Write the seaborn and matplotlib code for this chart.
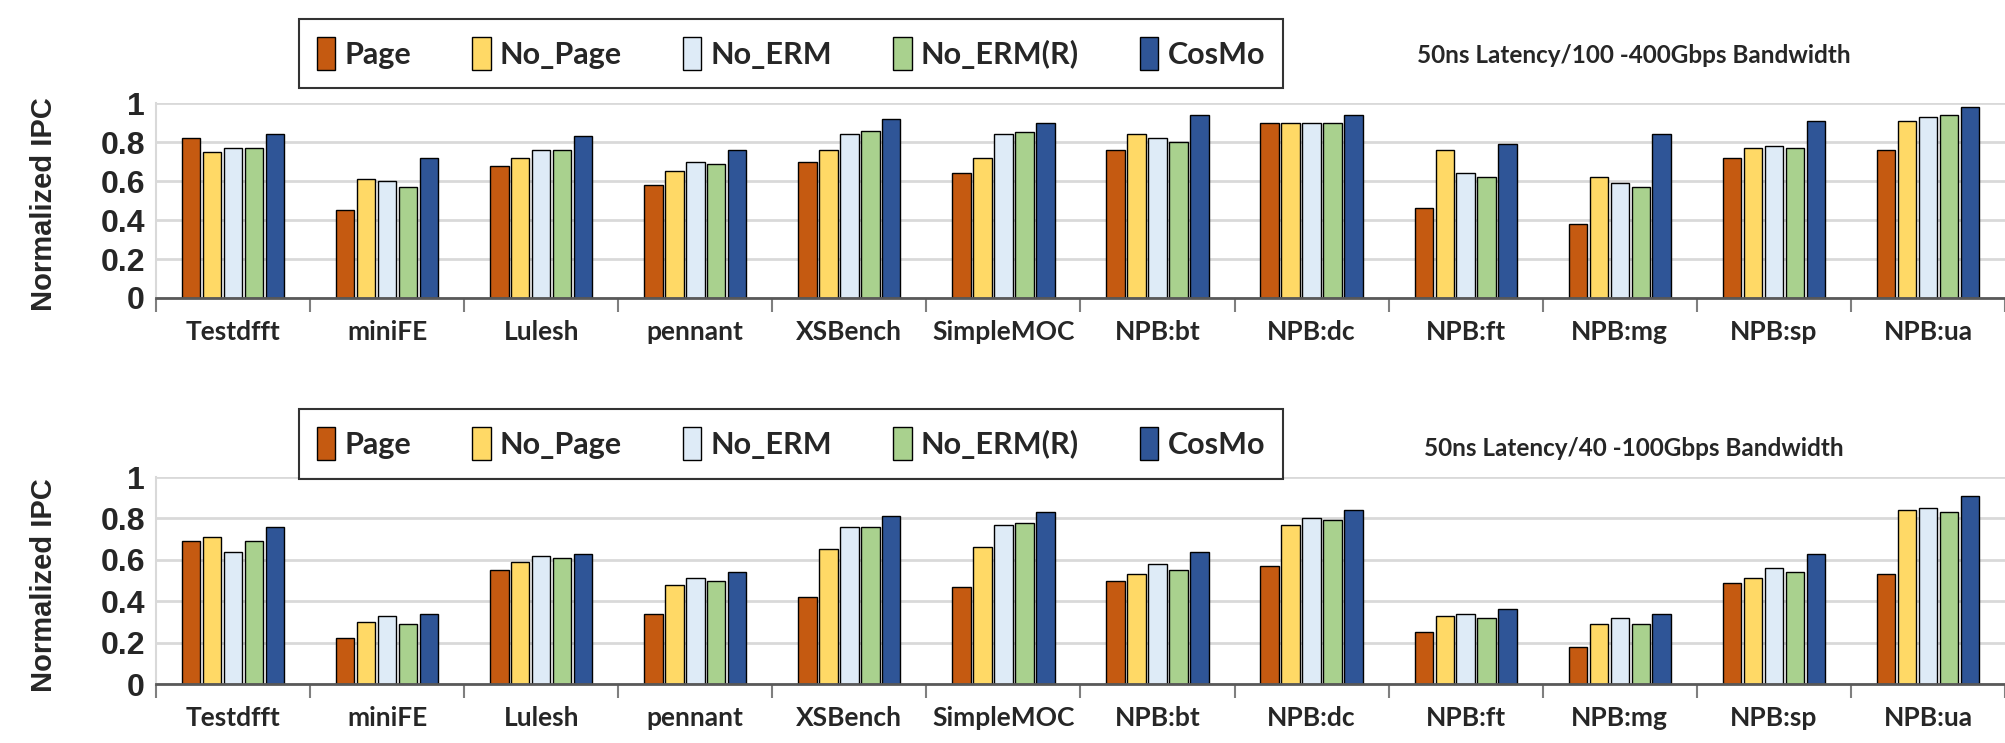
import numpy as np
import pandas as pd
import matplotlib
matplotlib.use('Agg')
import matplotlib.pyplot as plt
import seaborn as sns

# ---------------- data ----------------
benchmarks = ['Testdfft', 'miniFE', 'Lulesh', 'pennant', 'XSBench', 'SimpleMOC',
              'NPB:bt', 'NPB:dc', 'NPB:ft', 'NPB:mg', 'NPB:sp', 'NPB:ua']
configs = ['Page', 'No_Page', 'No_ERM', 'No_ERM(R)', 'CosMo']
colors = ['#C55A11', '#FFD966', '#DEEBF7', '#A9D18E', '#2F5597']

# 50ns latency / 100-400Gbps
page_hi = [0.82, 0.45, 0.68, 0.58, 0.70, 0.64, 0.76, 0.90, 0.46, 0.38, 0.72, 0.76]
nopage_hi = [0.75, 0.61, 0.72, 0.65, 0.76, 0.72, 0.84, 0.90, 0.76, 0.62, 0.77, 0.91]
noerm_hi = [0.77, 0.60, 0.76, 0.70, 0.84, 0.84, 0.82, 0.90, 0.64, 0.59, 0.78, 0.93]
noermr_hi = [0.77, 0.57, 0.76, 0.69, 0.86, 0.85, 0.80, 0.90, 0.62, 0.57, 0.77, 0.94]
cosmo_hi = [0.84, 0.72, 0.83, 0.76, 0.92, 0.90, 0.94, 0.94, 0.79, 0.84, 0.91, 0.98]

# 50ns latency / 40-100Gbps
page_lo = [0.69, 0.22, 0.55, 0.34, 0.42, 0.47, 0.50, 0.57, 0.25, 0.18, 0.49, 0.53]
nopage_lo = [0.71, 0.30, 0.59, 0.48, 0.65, 0.66, 0.53, 0.77, 0.33, 0.29, 0.51, 0.84]
noerm_lo = [0.64, 0.33, 0.62, 0.51, 0.76, 0.77, 0.58, 0.80, 0.34, 0.32, 0.56, 0.85]
noermr_lo = [0.69, 0.29, 0.61, 0.50, 0.76, 0.78, 0.55, 0.79, 0.32, 0.29, 0.54, 0.83]
cosmo_lo = [0.76, 0.34, 0.63, 0.54, 0.81, 0.83, 0.64, 0.84, 0.36, 0.34, 0.63, 0.91]

yticks = [0, 0.2, 0.4, 0.6, 0.8, 1]
ytick_labels = ['0', '0.2', '0.4', '0.6', '0.8', '1']


def to_long(series_list):
    rows = []
    for cfg, vals in zip(configs, series_list):
        for b, v in zip(benchmarks, vals):
            rows.append({'bench': b, 'config': cfg, 'ipc': v})
    return pd.DataFrame(rows)


df_hi = to_long([page_hi, nopage_hi, noerm_hi, noermr_hi, cosmo_hi])
df_lo = to_long([page_lo, nopage_lo, noerm_lo, noermr_lo, cosmo_lo])

sns.set_theme(style='white')
plt.rcParams['font.family'] = ['Liberation Sans Narrow', 'Liberation Sans', 'DejaVu Sans']

fig = plt.figure(figsize=(20.05, 7.43), dpi=100)
ax_top = fig.add_axes([0.0778, 0.599, 0.9222, 0.262])
ax_bot = fig.add_axes([0.0778, 0.0794, 0.9222, 0.2786])


def draw_panel(ax, df, note, legend_y, note_y):
    sns.barplot(data=df, x='bench', y='ipc', hue='config', hue_order=configs,
                order=benchmarks, palette=colors, saturation=1, width=0.68, gap=0.12,
                edgecolor='black', linewidth=1.0, ax=ax)
    handles, labels = ax.get_legend_handles_labels()
    ax.get_legend().remove()

    ax.set_xlim(-0.5, len(benchmarks) - 0.5)
    ax.set_ylim(0, 1.0)
    ax.set_yticks(yticks)
    ax.set_yticklabels(ytick_labels, fontsize=23, fontweight='bold')
    ax.yaxis.grid(True, color='#D9D9D9', linewidth=2)
    ax.set_axisbelow(True)

    ax.set_xticks(range(len(benchmarks)))
    ax.set_xticklabels(benchmarks, fontsize=19, family=['Lato', 'DejaVu Sans'],
                       fontweight='bold')
    ax.set_xticks(np.arange(-0.5, len(benchmarks), 1), minor=True)
    ax.tick_params(axis='x', which='major', length=0, pad=16)
    ax.tick_params(axis='x', which='minor', length=10, width=1.5,
                   color='#7F7F7F', direction='out', bottom=True)
    ax.tick_params(axis='y', length=0, pad=8)

    ax.set_xlabel('')
    ax.set_ylabel('Normalized IPC', fontsize=21, fontweight='bold',
                  family=['Liberation Sans', 'DejaVu Sans'])
    ax.yaxis.set_label_coords(-0.053, 0.48)

    for s in ['top', 'right']:
        ax.spines[s].set_visible(False)
    ax.spines['left'].set_color('#D9D9D9')
    ax.spines['left'].set_linewidth(1.5)
    ax.spines['bottom'].set_color('#595959')
    ax.spines['bottom'].set_linewidth(2)

    leg = fig.legend(handles, labels, loc='center', bbox_to_anchor=(0.3945, legend_y),
                     ncol=5, frameon=True, fancybox=False, edgecolor='black',
                     handlelength=0.6, handleheight=1.3, handletextpad=0.3,
                     columnspacing=2.0, borderpad=0.6,
                     prop={'family': ['Lato', 'DejaVu Sans'], 'size': 22,
                           'weight': 'bold'})
    leg.get_frame().set_linewidth(1.5)

    fig.text(0.815, note_y, note, ha='center', va='center', fontsize=17.5,
             fontweight='bold', family=['Lato', 'DejaVu Sans'])


draw_panel(ax_top, df_hi, '50ns Latency/100 -400Gbps Bandwidth', 0.928, 0.925)
draw_panel(ax_bot, df_lo, '50ns Latency/40 -100Gbps Bandwidth', 0.403, 0.397)

fig.savefig('out.png', dpi=100)
